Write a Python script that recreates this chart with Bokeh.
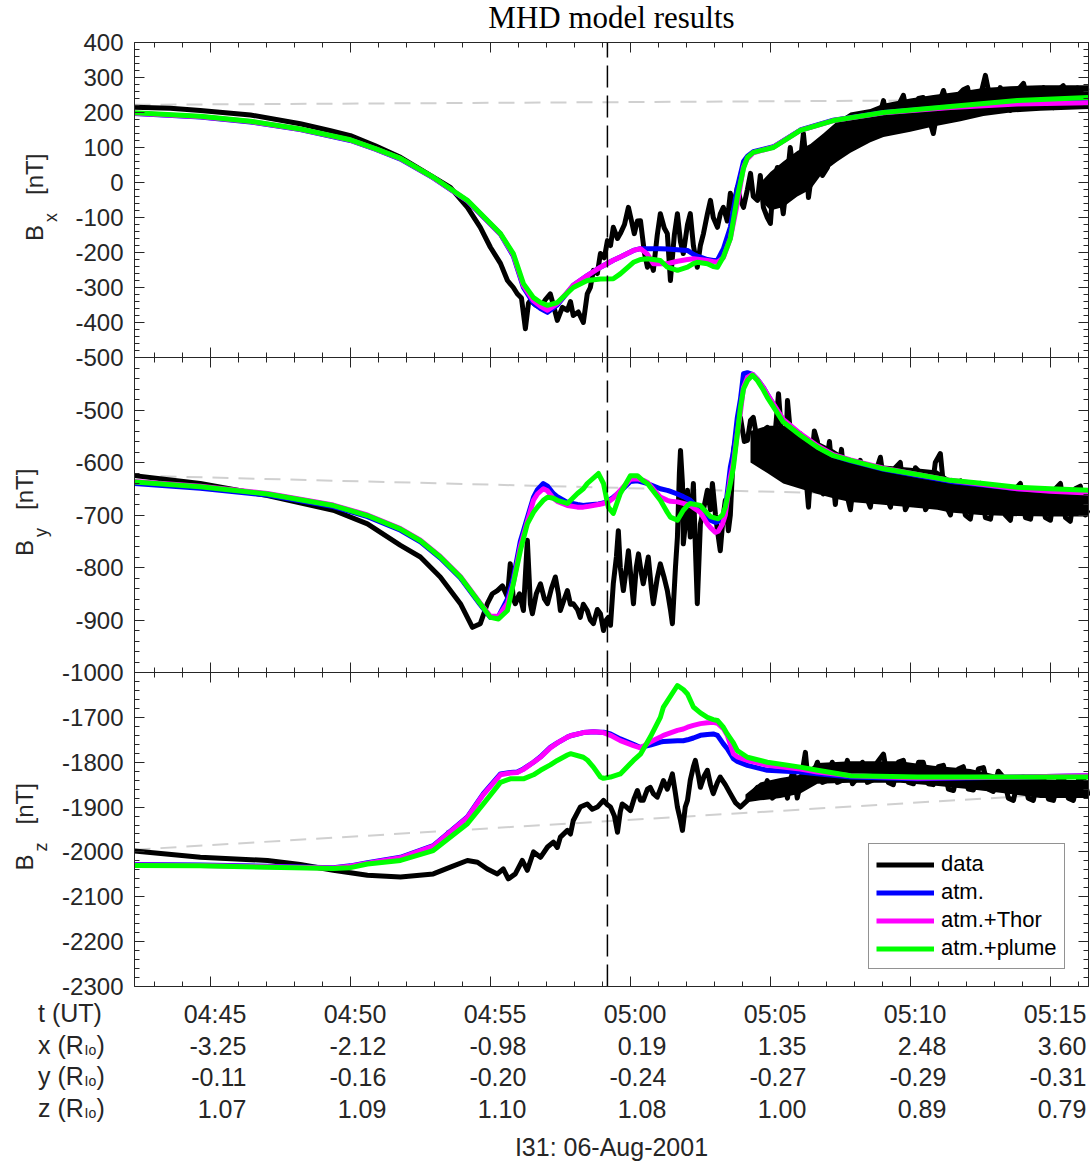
import numpy as np
from bokeh.plotting import figure
from bokeh.models import (Range1d, LinearAxis, FixedTicker, Label, LabelSet,
                          Legend, LegendItem, ColumnDataSource, NumeralTickFormatter)
from bokeh.core.properties import value
from bokeh.embed import file_html
from bokeh.resources import INLINE

# ---------------- data (time = minutes after 04:00 UT) ----------------
T0, T1 = 42.29, 76.36          # plotted time window
T_CA = 59.18                    # closest approach (dashed line)

tick_t = [45, 50, 55, 60, 65, 70, 75]
tick_time = ["04:45", "04:50", "04:55", "05:00", "05:05", "05:10", "05:15"]
tick_x = ["-3.25", "-2.12", "-0.98", "0.19", "1.35", "2.48", "3.60"]
tick_y = ["-0.11", "-0.16", "-0.20", "-0.24", "-0.27", "-0.29", "-0.31"]
tick_z = ["1.07", "1.09", "1.10", "1.08", "1.00", "0.89", "0.79"]

# ---- Bx ----
t_bx_obs = [42.29, 43.57, 44.64, 46.43, 48.21, 49.29, 50.00, 50.89, 51.79, 52.86,
            53.57, 54.18, 54.64, 55.00, 55.36, 55.61, 55.82, 55.96, 56.11, 56.25,
            56.36, 56.43, 56.61, 56.79, 56.96, 57.14, 57.25, 57.39, 57.57, 57.75,
            57.86, 57.96, 58.14, 58.32, 58.46, 58.57, 58.68, 58.82, 58.93, 59.07,
            59.18, 59.29, 59.39, 59.54, 59.64, 59.79, 59.93, 60.04, 60.14, 60.25,
            60.36, 60.50, 60.61, 60.71, 60.82, 60.96, 61.07, 61.21, 61.32, 61.43,
            61.57, 61.68, 61.79, 61.89, 62.04, 62.14, 62.25, 62.39, 62.50, 62.61,
            62.75, 62.86, 62.96, 63.11, 63.21, 63.32, 63.46, 63.57, 63.68, 63.82,
            63.93, 64.04, 64.18, 64.29, 64.39, 64.54, 64.64, 64.75, 64.89, 65.00,
            65.11, 65.25, 65.36, 65.46, 65.61, 65.71, 65.82, 65.96, 66.07, 66.18,
            66.29, 66.36, 66.50, 66.68, 66.86, 67.04, 67.14, 67.25, 67.43, 67.61,
            67.75, 67.86, 67.96, 68.11, 68.29, 68.46, 68.64, 68.82, 68.93, 69.04,
            69.21, 69.39, 69.57, 69.75, 69.93, 70.11, 70.29, 70.46, 70.64, 70.82,
            71.00, 71.18, 71.36, 71.54, 71.71, 71.89, 72.04, 72.21, 72.39, 72.54,
            72.68, 72.86, 73.04, 73.21, 73.39, 73.57, 73.79, 74.04, 74.21, 74.39,
            74.57, 74.75, 74.93, 75.11, 75.29, 75.46, 75.64, 75.82, 75.96, 76.14,
            76.32]
bx_obs = [215, 212, 206, 193, 168, 148, 134, 105, 72, 20,
          -14, -71, -128, -185, -231, -280, -300, -318, -330, -418,
          -345, -337, -350, -357, -335, -318, -350, -394, -357, -365,
          -340, -380, -370, -400, -318, -300, -251, -260, -203, -215,
          -166, -180, -128, -160, -146, -120, -71, -110, -146, -110,
          -109, -200, -242, -220, -251, -150, -89, -130, -146, -280,
          -150, -89, -170, -203, -120, -89, -180, -242, -180, -146,
          -90, -51, -100, -128, -90, -71, -110, -31, -70, -14,
          -50, -71, -20, 26, -40, -51, 20, -71, -100, -117,
          0, 43, -30, -89, 20, 100, 30, -14, 60, 140,
          50, -43, 40, 83, 20, 43, 110, 149, 80, 100,
          150, 186, 110, 120, 170, 197, 130, 157, 200, 234,
          160, 177, 220, 249, 180, 197, 240, 243, 190, 140,
          220, 263, 210, 197, 250, 265, 271, 210, 214, 260,
          306, 234, 210, 271, 250, 206, 260, 283, 230, 214,
          260, 271, 220, 214, 265, 277, 225, 230, 270, 250,
          271]
# solid core of the noisy data band (lower / upper edge)
t_bx_band = [64.54, 65.00, 65.46, 65.96, 66.43, 66.89, 67.39, 67.86, 68.57, 69.04,
             70.00, 70.82, 71.79, 72.61, 73.57, 74.64, 76.36]
bx_band_lo = [-40, -80, -70, -40, -20, 30, 60, 85, 115, 130, 145, 160, 175, 190, 200, 205, 210]
bx_band_hi = [-10, 30, 60, 90, 110, 140, 175, 200, 210, 225, 240, 250, 260, 270, 275, 278, 278]

t_bx_mod = [42.29, 44.64, 46.43, 48.21, 50.00, 50.89, 51.79, 52.96, 54.18, 55.36,
            55.82, 56.18, 56.54, 56.79, 57.04, 57.39, 57.96, 58.46, 58.93, 59.39,
            59.64, 60.11, 60.36, 60.61, 60.82, 61.07, 61.32, 61.68, 62.04, 62.25,
            62.39, 62.75, 62.96, 63.11, 63.32, 63.57, 63.82, 64.04, 64.18, 64.39,
            65.11, 66.07, 67.25, 69.04, 71.43, 73.82, 76.36]
bx_atm = [197, 187, 173, 151, 120, 95, 67, 13, -53, -148,
          -210, -300, -345, -360, -371, -350, -294, -266, -242, -222,
          -213, -194, -189, -189, -189, -189, -190, -192, -194, -205,
          -210, -220, -223, -222, -190, -128, -14, 60, 75, 88,
          102, 150, 178, 200, 216, 228, 230]
bx_thor = [198, 188, 174, 152, 121, 96, 68, 14, -52, -147,
           -207, -295, -338, -354, -365, -346, -294, -266, -242, -222,
           -213, -194, -189, -205, -232, -232, -232, -225, -220, -218,
           -219, -223, -226, -228, -215, -160, -60, 45, 68, 85,
           101, 149, 177, 199, 214, 224, 228]
bx_plume = [199, 189, 175, 153, 122, 97, 69, 15, -51, -146,
            -203, -289, -329, -343, -351, -343, -300, -280, -276, -275,
            -261, -228, -220, -218, -220, -223, -242, -251, -242, -232,
            -228, -232, -240, -242, -213, -160, -40, 40, 72, 86,
            100, 149, 177, 200, 217, 234, 243]
bx_trend = [222, 237]

# ---- By ----
t_by_obs = [42.29, 44.64, 47.04, 49.39, 50.61, 51.79, 52.50, 53.21, 53.93, 54.36,
            54.64, 54.89, 55.07, 55.25, 55.43, 55.61, 55.71, 55.82, 55.89, 56.04,
            56.18, 56.32, 56.43, 56.50, 56.64, 56.79, 56.93, 57.04, 57.18, 57.32,
            57.43, 57.50, 57.64, 57.75, 57.86, 57.96, 58.11, 58.21, 58.32, 58.46,
            58.57, 58.68, 58.82, 58.93, 59.04, 59.14, 59.21, 59.29, 59.39, 59.50,
            59.57, 59.64, 59.75, 59.86, 59.93, 60.04, 60.11, 60.21, 60.29, 60.39,
            60.46, 60.57, 60.64, 60.75, 60.82, 60.96, 61.07, 61.21, 61.32, 61.43,
            61.50, 61.61, 61.68, 61.75, 61.79, 61.86, 61.89, 62.00, 62.04, 62.14,
            62.25, 62.32, 62.39, 62.50, 62.61, 62.75, 62.86, 62.93, 63.04, 63.11,
            63.21, 63.32, 63.39, 63.50, 63.57, 63.68, 63.82, 63.93, 64.07, 64.18,
            64.29, 64.39, 64.54, 64.64, 64.75, 64.89, 65.00, 65.11, 65.21, 65.29,
            65.39, 65.46, 65.54, 65.61, 65.71, 65.82, 65.93, 66.07, 66.18, 66.29,
            66.36, 66.46, 66.57, 66.68, 66.79, 66.89, 67.00, 67.11, 67.21, 67.32,
            67.43, 67.54, 67.68, 67.86, 68.04, 68.21, 68.39, 68.57, 68.75, 68.93,
            69.11, 69.29, 69.46, 69.64, 69.82, 70.00, 70.18, 70.36, 70.54, 70.71,
            70.89, 71.07, 71.25, 71.43, 71.61, 71.79, 71.96, 72.14, 72.32, 72.50,
            72.68, 72.86, 73.04, 73.21, 73.39, 73.57, 73.75, 73.93, 74.11, 74.29,
            74.46, 74.64, 74.82, 75.00, 75.18, 75.36, 75.54, 75.71, 75.89, 76.07,
            76.25, 76.36]
by_obs = [-625, -640, -663, -691, -717, -758, -780, -818, -869, -914,
          -907, -869, -850, -844, -835, -856, -793, -860, -869, -850,
          -882, -748, -870, -888, -850, -831, -860, -869, -840, -818,
          -850, -882, -860, -844, -870, -869, -880, -895, -870, -882,
          -900, -907, -880, -888, -920, -900, -895, -910, -831, -780,
          -730, -800, -844, -800, -768, -830, -869, -800, -774, -810,
          -831, -800, -780, -840, -869, -820, -793, -820, -844, -880,
          -907, -800, -742, -620, -577, -640, -755, -700, -653, -742,
          -640, -760, -869, -717, -690, -653, -690, -640, -700, -730,
          -768, -700, -672, -730, -700, -577, -540, -514, -560, -558,
          -520, -514, -560, -590, -540, -533, -600, -577, -520, -469,
          -540, -577, -600, -482, -540, -602, -560, -545, -600, -640,
          -685, -600, -540, -560, -620, -660, -600, -560, -620, -680,
          -620, -575, -650, -690, -610, -596, -660, -685, -620, -590,
          -660, -685, -610, -600, -690, -670, -610, -620, -690, -675,
          -600, -583, -680, -700, -640, -635, -700, -708, -650, -640,
          -705, -708, -650, -645, -700, -710, -650, -640, -705, -708,
          -655, -650, -705, -710, -650, -640, -705, -712, -650, -645,
          -700, -690]
t_by_band = [64.29, 64.89, 65.46, 66.07, 66.68, 67.25, 67.86, 68.93, 70.00,
             70.96, 71.43, 72.50, 73.57, 75.00, 76.36]
by_band_lo = [-600, -620, -640, -650, -660, -668, -675, -680, -685,
              -690, -695, -700, -702, -703, -703]
by_band_hi = [-540, -530, -530, -545, -560, -575, -595, -605, -610,
              -615, -632, -640, -645, -648, -650]

t_by_mod = [42.29, 44.64, 47.04, 49.39, 50.61, 51.79, 52.50, 53.21, 53.93, 54.64,
            55.00, 55.29, 55.61, 55.82, 56.07, 56.32, 56.54, 56.68, 56.89, 57.04,
            57.25, 57.39, 57.75, 58.11, 58.32, 58.46, 58.86, 59.04, 59.21, 59.39,
            59.64, 60.00, 60.25, 60.46, 60.61, 61.07, 61.32, 61.43, 61.68, 61.89,
            62.04, 62.14, 62.50, 62.75, 62.86, 63.04, 63.14, 63.29, 63.39, 63.57,
            63.68, 63.82, 63.93, 64.04, 64.18, 64.36, 64.54, 64.75, 64.89, 65.46,
            66.07, 66.68, 67.25, 67.86, 69.04, 70.25, 71.43, 72.61, 73.82, 75.00,
            76.36]
by_atm = [-640, -649, -662, -684, -703, -729, -751, -782, -820, -871,
          -895, -893, -860, -820, -750, -705, -666, -652, -640, -645,
          -659, -665, -676, -680, -682, -681, -679, -677, -673, -666,
          -655, -636, -635, -638, -640, -650, -653, -655, -660, -665,
          -669, -672, -691, -705, -710, -714, -712, -705, -690, -609,
          -580, -514, -480, -431, -429, -432, -442, -457, -470, -520,
          -547, -570, -587, -597, -613, -625, -636, -643, -650, -654,
          -657]
by_thor = [-636, -645, -659, -681, -700, -726, -748, -779, -817, -868,
           -893, -893, -868, -830, -760, -712, -672, -660, -650, -654,
           -668, -674, -682, -685, -685, -684, -680, -678, -675, -668,
           -653, -632, -631, -634, -638, -666, -672, -674, -675, -678,
           -680, -682, -695, -717, -724, -733, -731, -717, -700, -628,
           -600, -545, -505, -457, -438, -432, -442, -457, -470, -518,
           -545, -568, -585, -595, -611, -623, -634, -642, -650, -655,
           -658]
by_plume = [-637, -646, -660, -682, -701, -727, -749, -780, -818, -869,
            -895, -898, -882, -831, -768, -717, -695, -685, -672, -666,
            -668, -672, -678, -659, -650, -640, -621, -640, -685, -697,
            -659, -625, -625, -635, -640, -672, -695, -704, -710, -691,
            -682, -678, -682, -697, -703, -706, -707, -700, -685, -640,
            -609, -545, -495, -460, -444, -434, -444, -462, -476, -523,
            -548, -571, -587, -596, -612, -623, -634, -640, -647, -650,
            -653]
by_trend = [-625, -671]

# ---- Bz ----
t_bz_obs = [42.29, 44.64, 47.04, 48.21, 49.39, 50.61, 51.79, 52.96, 53.57, 54.18,
            54.54, 54.89, 55.25, 55.46, 55.64, 55.89, 56.14, 56.32, 56.54, 56.79,
            57.04, 57.25, 57.39, 57.50, 57.75, 57.86, 57.96, 58.21, 58.46, 58.64,
            58.82, 59.04, 59.18, 59.29, 59.43, 59.54, 59.64, 59.71, 59.86, 60.00,
            60.14, 60.25, 60.36, 60.46, 60.61, 60.71, 60.82, 60.96, 61.07, 61.18,
            61.32, 61.43, 61.50, 61.61, 61.68, 61.79, 61.86, 61.96, 62.04, 62.14,
            62.25, 62.32, 62.43, 62.50, 62.64, 62.75, 62.86, 62.96, 63.11, 63.21,
            63.39, 63.57, 63.75, 63.93, 64.18, 64.36, 64.54, 64.71, 64.89, 65.07,
            65.25, 65.36, 65.46, 65.61, 65.71, 65.82, 65.96, 66.07, 66.25, 66.36,
            66.50, 66.68, 66.86, 67.04, 67.21, 67.39, 67.57, 67.75, 67.93, 68.11,
            68.29, 68.46, 68.64, 68.82, 69.04, 69.21, 69.39, 69.57, 69.75, 69.93,
            70.11, 70.29, 70.46, 70.64, 70.82, 71.00, 71.18, 71.36, 71.54, 71.71,
            71.89, 72.07, 72.25, 72.43, 72.61, 72.79, 72.96, 73.14, 73.32, 73.50,
            73.68, 73.86, 74.04, 74.21, 74.39, 74.57, 74.75, 74.93, 75.11, 75.29,
            75.46, 75.64, 75.82, 76.00, 76.18, 76.36]
bz_obs = [-1998, -2012, -2019, -2028, -2041, -2052, -2056, -2049, -2034, -2019,
          -2023, -2038, -2049, -2038, -2060, -2049, -2019, -2041, -2000, -2012,
          -1989, -1978, -1990, -1967, -1952, -1960, -1930, -1900, -1893, -1905,
          -1900, -1885, -1895, -1900, -1920, -1956, -1910, -1893, -1900, -1908,
          -1880, -1863, -1885, -1885, -1860, -1856, -1870, -1878, -1860, -1841,
          -1860, -1840, -1826, -1870, -1900, -1930, -1952, -1900, -1885, -1840,
          -1810, -1796, -1830, -1856, -1830, -1818, -1850, -1870, -1845, -1833,
          -1850, -1870, -1890, -1900, -1885, -1870, -1856, -1875, -1841, -1880,
          -1870, -1845, -1841, -1880, -1840, -1818, -1880, -1848, -1778, -1850,
          -1830, -1800, -1845, -1840, -1800, -1845, -1840, -1796, -1848, -1835,
          -1800, -1845, -1840, -1800, -1782, -1845, -1850, -1800, -1796, -1845,
          -1848, -1800, -1800, -1848, -1850, -1810, -1807, -1860, -1863, -1815,
          -1810, -1860, -1862, -1815, -1812, -1860, -1865, -1820, -1833, -1880,
          -1885, -1835, -1833, -1880, -1885, -1835, -1833, -1882, -1885, -1840,
          -1833, -1880, -1885, -1840, -1835, -1875]
t_bz_band = [64.11, 64.64, 65.36, 66.07, 66.68, 67.86, 69.64, 70.82, 72.14, 73.21, 74.64, 76.36]
bz_band_lo = [-1890, -1885, -1880, -1870, -1848, -1846, -1846, -1852, -1860, -1868, -1880, -1880]
bz_band_hi = [-1872, -1845, -1835, -1828, -1802, -1798, -1798, -1808, -1815, -1830, -1838, -1840]

t_bz_mod = [42.29, 44.64, 47.04, 49.39, 50.00, 50.61, 51.79, 52.96, 54.18, 54.75,
            55.36, 55.71, 55.96, 56.18, 56.54, 56.79, 57.14, 57.39, 57.75, 57.86,
            58.32, 58.46, 58.68, 58.93, 59.04, 59.29, 59.64, 60.11, 60.36, 60.71,
            61.07, 61.18, 61.68, 61.89, 62.04, 62.25, 62.50, 62.75, 62.96, 63.11,
            63.32, 63.46, 63.68, 63.82, 64.18, 64.89, 66.07, 66.68, 67.86, 70.25,
            73.82, 76.36]
bz_atm = [-2028, -2029, -2032, -2035, -2031, -2024, -2012, -1986, -1922, -1870,
          -1826, -1823, -1822, -1815, -1800, -1788, -1767, -1757, -1744, -1741,
          -1734, -1733, -1732, -1733, -1733, -1737, -1748, -1760, -1767, -1762,
          -1755, -1754, -1752, -1752, -1750, -1746, -1740, -1738, -1737, -1740,
          -1759, -1770, -1792, -1798, -1807, -1818, -1822, -1826, -1833, -1837,
          -1833, -1830]
bz_thor = [-2029, -2030, -2033, -2036, -2032, -2025, -2013, -1987, -1923, -1872,
           -1828, -1824, -1823, -1816, -1800, -1789, -1768, -1757, -1744, -1741,
           -1734, -1733, -1732, -1733, -1734, -1740, -1752, -1763, -1768, -1755,
           -1744, -1740, -1729, -1726, -1722, -1718, -1714, -1712, -1711, -1713,
           -1725, -1740, -1781, -1788, -1796, -1807, -1815, -1822, -1830, -1835,
           -1833, -1830]
bz_plume = [-2030, -2031, -2034, -2037, -2035, -2027, -2019, -1997, -1937, -1893,
            -1845, -1837, -1837, -1837, -1828, -1818, -1806, -1796, -1784, -1781,
            -1789, -1795, -1811, -1833, -1836, -1833, -1826, -1796, -1782, -1744,
            -1700, -1677, -1629, -1638, -1648, -1677, -1690, -1700, -1705, -1707,
            -1722, -1737, -1757, -1774, -1789, -1800, -1811, -1818, -1830, -1833,
            -1833, -1833]
bz_trend = [-1995, -1867]

# ---------------- layout / style ----------------
FONT = "Liberation Sans"
INK = "#262626"
W, H = 1090, 1168
PX_PER_MIN = 28.0
X_LEFT_PX = 134.0                                # screen x of T0
panel_top = [42, 357, 672]                       # screen y of each panel's top edge
panel_px = [315, 315, 314]                       # each panel's height
panel_lim = [(-500, 400), (-1000, -400), (-2300, -1600)]
names = ["default", "by", "bz"]
major_y = [list(range(-500, 401, 100)), list(range(-1000, -499, 100)), list(range(-2300, -1699, 100))]
minor_y = [list(range(-500, 401, 20)), list(range(-1000, -399, 20)), list(range(-2300, -1599, 20))]
x_minor = list(range(43, 77))
BL = 0.37     # Label baseline correction, in font sizes

# the plotting frame covers the whole canvas; each panel gets its own y scale
x0 = T0 - X_LEFT_PX / PX_PER_MIN
x_range = Range1d(x0, x0 + W / PX_PER_MIN)
full_ranges = []
for top, h, (lo, hi) in zip(panel_top, panel_px, panel_lim):
    k = (hi - lo) / h
    full_ranges.append(Range1d(hi - (H - top) * k, hi + top * k))

p = figure(width=W, height=H, x_range=x_range, y_range=full_ranges[0],
           x_axis_type=None, y_axis_type=None, output_backend="svg", toolbar_location=None,
           min_border=0, background_fill_color="white", border_fill_color="white",
           outline_line_color=None)
p.extra_y_ranges = {"by": full_ranges[1], "bz": full_ranges[2]}


def style_axis(ax, labels=False, tin=10, tout=0):
    ax.axis_line_color = INK
    ax.major_tick_line_color = INK
    ax.minor_tick_line_color = INK
    ax.major_tick_in = tin
    ax.major_tick_out = tout
    ax.minor_tick_in = tin // 2
    ax.minor_tick_out = tout // 2
    if labels:
        ax.formatter = NumeralTickFormatter(format="0")
        ax.major_label_text_font = FONT
        ax.major_label_text_font_size = "24px"
        ax.major_label_text_color = INK
        ax.major_label_standoff = 11
    else:
        ax.major_label_text_color = None


for i, nm in enumerate(names):
    lo, hi = panel_lim[i]
    left = LinearAxis(y_range_name=nm, bounds=(lo, hi), fixed_location=T0,
                      ticker=FixedTicker(ticks=major_y[i], minor_ticks=minor_y[i]))
    style_axis(left, labels=True)
    p.add_layout(left, "left")
    right = LinearAxis(y_range_name=nm, bounds=(lo, hi), fixed_location=T1,
                       ticker=FixedTicker(ticks=major_y[i], minor_ticks=minor_y[i]))
    style_axis(right)
    p.add_layout(right, "right")

top_ax = LinearAxis(fixed_location=panel_lim[0][1], bounds=(T0, T1),
                    ticker=FixedTicker(ticks=tick_t, minor_ticks=x_minor))
style_axis(top_ax)
p.add_layout(top_ax, "above")
for nm, loc, tout in [("default", -500, 10), ("by", -1000, 10), ("bz", -2300, 0)]:
    ax = LinearAxis(y_range_name=nm, fixed_location=loc, bounds=(T0, T1),
                    ticker=FixedTicker(ticks=tick_t, minor_ticks=x_minor))
    style_axis(ax, tout=tout)
    p.add_layout(ax, "below")

# ---------------- curves ----------------
series = [
    (t_bx_obs, bx_obs, t_bx_band, bx_band_lo, bx_band_hi, t_bx_mod, bx_atm, bx_thor, bx_plume, bx_trend),
    (t_by_obs, by_obs, t_by_band, by_band_lo, by_band_hi, t_by_mod, by_atm, by_thor, by_plume, by_trend),
    (t_bz_obs, bz_obs, t_bz_band, bz_band_lo, bz_band_hi, t_bz_mod, bz_atm, bz_thor, bz_plume, bz_trend),
]
rend = []
for i, (nm, s) in enumerate(zip(names, series)):
    to, vo, tb, blo, bhi, tm, va, vt, vp, vtr = s
    lo, hi = panel_lim[i]
    p.line([T0, T1], vtr, y_range_name=nm, line_color="#d0d0d0", line_width=2, line_dash="16 10")
    p.varea(x=tb, y1=blo, y2=bhi, y_range_name=nm, fill_color="black")
    r_d = p.line(to, vo, y_range_name=nm, line_color="black", line_width=5, line_join="round")
    r_a = p.line(tm, va, y_range_name=nm, line_color="#0000ff", line_width=5, line_join="round")
    r_t = p.line(tm, vt, y_range_name=nm, line_color="#ff00ff", line_width=5, line_join="round")
    r_p = p.line(tm, vp, y_range_name=nm, line_color="#00ff00", line_width=5, line_join="round")
    p.line([T_CA, T_CA], [lo, hi], y_range_name=nm, line_color="black", line_width=1.5,
           line_dash="22 8")
    rend.append((r_d, r_a, r_t, r_p))

# ---------------- y axis titles ----------------
subs = ["x", "y", "z"]
b_base = [43, 33, 33]     # screen x of the baseline of "B"
for i, nm in enumerate(names):
    lo, hi = panel_lim[i]
    mid = (lo + hi) / 2
    xo = b_base[i] - X_LEFT_PX
    common = dict(x=T0, y=mid, y_range_name=nm, angle=np.pi / 2, text_font=FONT,
                  text_color=INK, text_align="left", text_baseline="alphabetic")
    p.add_layout(Label(text="B", x_offset=xo - BL * 24, y_offset=-41,
                       text_font_size="24px", **common))
    p.add_layout(Label(text=subs[i], x_offset=xo + 14 - BL * 18, y_offset=-22,
                       text_font_size="18px", **common))
    p.add_layout(Label(text="[nT]", x_offset=xo - BL * 24, y_offset=5,
                       text_font_size="24px", **common))

# ---------------- title ----------------
p.add_layout(Label(x=(T0 + T1) / 2, y=panel_lim[0][1], y_offset=14 + BL * 31,
                   text="MHD model results",
                   text_font="Liberation Serif", text_font_size="31px", text_color="black",
                   text_align="center", text_baseline="alphabetic"))

# ---------------- position table below the axis ----------------
rows = [tick_time, tick_x, tick_y, tick_z]
row_dy = [36, 68, 99, 131]
heads = [("t (UT)", False), ("x (R", True), ("y (R", True), ("z (R", True)]
for vals, dy, (hd, sub) in zip(rows, row_dy, heads):
    yo = -dy + BL * 25
    src = ColumnDataSource(dict(t=tick_t, s=vals))
    p.add_layout(LabelSet(x="t", y=-2300, y_range_name="bz", text="s", source=src,
                          x_offset=36, y_offset=-dy, text_align="right", text_baseline="alphabetic",
                          text_font=value(FONT), text_font_size=value("25px"), text_color=INK))
    lab = dict(x=T0, y=-2300, y_range_name="bz", text_font=FONT, text_color=INK,
               text_align="left", text_baseline="alphabetic")
    p.add_layout(Label(text=hd, x_offset=37.5 - X_LEFT_PX, y_offset=yo,
                       text_font_size="25px", **lab))
    if sub:
        p.add_layout(Label(text="Io", x_offset=84 - X_LEFT_PX, y_offset=-dy - 1 + BL * 14,
                           text_font_size="14px", **lab))
        p.add_layout(Label(text=")", x_offset=96 - X_LEFT_PX, y_offset=yo,
                           text_font_size="25px", **lab))

p.add_layout(Label(x=(T0 + T1) / 2, y=-2300, y_range_name="bz", y_offset=-170 + BL * 25,
                   text="I31: 06-Aug-2001", text_font=FONT, text_font_size="25px", text_color=INK,
                   text_align="center", text_baseline="alphabetic"))

# ---------------- legend ----------------
r_d, r_a, r_t, r_p = rend[2]
legend = Legend(items=[LegendItem(label="data", renderers=[r_d]),
                       LegendItem(label="atm.", renderers=[r_a]),
                       LegendItem(label="atm.+Thor", renderers=[r_t]),
                       LegendItem(label="atm.+plume", renderers=[r_p])],
                location=(868, H - 969), orientation="vertical", padding=7, spacing=2, margin=0,
                glyph_width=58, glyph_height=25, label_height=25, label_standoff=7,
                label_text_font=FONT, label_text_font_size="22px", label_text_color="black",
                border_line_color=INK, border_line_width=1,
                background_fill_color="white", background_fill_alpha=1.0)
p.add_layout(legend)

open("out.html", "w").write(file_html(p, INLINE))
